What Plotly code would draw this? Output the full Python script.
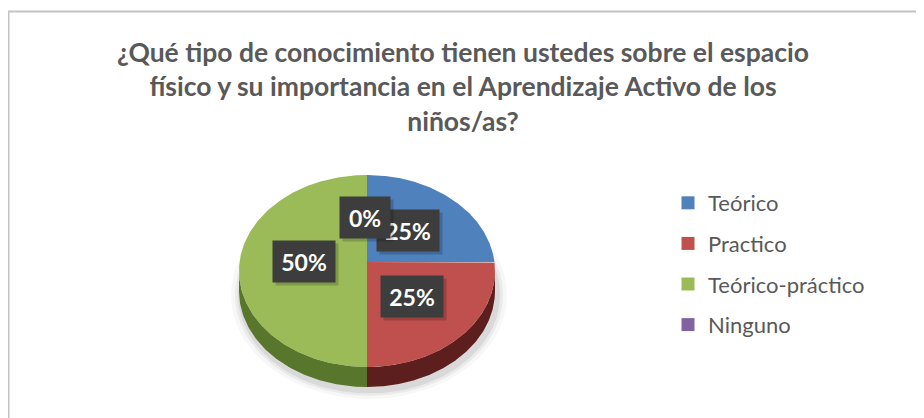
import numpy as np
import plotly.graph_objects as go

# ---- data ----
categories = ["Teórico", "Practico", "Teórico-práctico", "Ninguno"]
values = [25, 25, 50, 0]
labels_text = ["25%", "25%", "50%", "0%"]
title_text = ("¿Qué tipo de conocimiento tienen ustedes sobre el espacio<br>"
              "físico y su importancia en el Aprendizaje Activo de los<br>niños/as?")

# ---- style ----
top_colors = ["#4f81bd", "#c0504d", "#9bbb59", "#8064a2"]
side_colors = ["#2c4a6e", "#5c1f1d", "#58762c", "#4a3960"]
OFF = 8                     # page body margin
W, H = 924 - OFF, 418 - OFF
cx, cy, rx, ry = 367.0, 271.0, 128.0, 96.0   # top face ellipse (screen pixels)
ax_, ay_ = 367.0, 262.0                       # apex of wedges
depth = 20.0
label_pos = [(408, 230), (411.5, 296.5), (303.5, 261.5), (365, 217.5)]

fig = go.Figure()


def ray_point(phi):
    u = (ax_ - cx) / rx
    v = (ay_ - cy) / ry
    c, s_ = np.cos(phi), np.sin(phi)
    b = u * c - v * s_
    cc = u * u + v * v - 1
    s = -b + np.sqrt(b * b - cc)
    return ax_ + s * c * rx, ay_ - s * s_ * ry


# shadow
for grow, col in [(10, "rgba(0,0,0,0.03)"), (6, "rgba(0,0,0,0.05)"), (3, "rgba(0,0,0,0.07)")]:
    t = np.linspace(0, 2 * np.pi, 200)
    fig.add_trace(go.Scatter(x=cx + 2 + (rx + grow) * np.cos(t), y=cy + depth + 4 + (ry + grow * 0.8) * np.sin(t),
                             fill="toself", fillcolor=col, mode="lines", line=dict(width=0),
                             hoverinfo="skip", showlegend=False))

total = sum(values)
start = np.pi / 2
bounds = []
for v in values:
    end = start - 2 * np.pi * v / total
    bounds.append((start, end))
    start = end

# sides (visible on the lower half)
for i, (a0, a1) in enumerate(bounds):
    if values[i] == 0:
        continue
    phis = np.linspace(a0, a1, 200)
    pts = [ray_point(p) for p in phis]
    sel = [(x, y) for x, y in pts if y >= cy - 0.5]
    if len(sel) < 2:
        continue
    xs = [p[0] for p in sel]
    ys = [p[1] for p in sel]
    px = xs + xs[::-1]
    py = ys + [y + depth for y in ys[::-1]]
    fig.add_trace(go.Scatter(x=px, y=py, fill="toself", fillcolor=side_colors[i], mode="lines",
                             line=dict(width=0), hoverinfo="skip", showlegend=False))

# top faces
for i, (a0, a1) in enumerate(bounds):
    if values[i] == 0:
        continue
    phis = np.linspace(a0, a1, 200)
    pts = [ray_point(p) for p in phis]
    xs = [ax_] + [p[0] for p in pts] + [ax_]
    ys = [ay_] + [p[1] for p in pts] + [ay_]
    fig.add_trace(go.Scatter(x=xs, y=ys, fill="toself", fillcolor=top_colors[i], mode="lines",
                             line=dict(width=0), hoverinfo="skip", showlegend=False))

# legend entries
for i, c in enumerate(categories):
    fig.add_trace(go.Scatter(x=[None], y=[None], mode="markers", name=c, legendgroup=c,
                             marker=dict(symbol="square", size=13, color=top_colors[i])))

order = [2, 0, 1, 3]
for i in order:
    x, y = label_pos[i]
    bw = 50 if len(labels_text[i]) == 2 else 62
    fig.add_annotation(x=x, y=y, text=" ", showarrow=False, xshift=3, yshift=-3,
                       bgcolor="rgba(0,0,0,0.18)", width=bw, height=41, borderpad=0)
    fig.add_annotation(x=x, y=y, text="<b>%s</b>" % labels_text[i], showarrow=False,
                       font=dict(family="Lato", size=23, color="white"),
                       bgcolor="#3d3d3d", width=bw, height=41, borderpad=0)

fig.add_shape(type="rect", x0=8.5, y0=11.5, x1=1400, y1=700,
              line=dict(color="#c4c4c4", width=2), layer="below")

fig.update_layout(
    width=W, height=H, margin=dict(l=0, r=0, t=0, b=0),
    paper_bgcolor="white", plot_bgcolor="white",
    title=dict(text="<b>%s</b>" % title_text, x=(463 - OFF) / W, xanchor="center",
               y=1 - (62 - OFF) / H, yanchor="middle",
               font=dict(family="Lato", size=26.5, color="#595959")),
    xaxis=dict(range=[OFF, OFF + W], visible=False, domain=[0, 1], fixedrange=True),
    yaxis=dict(range=[OFF + H, OFF], visible=False, domain=[0, 1], fixedrange=True),
    legend=dict(x=(668 - OFF) / W, y=1 - (182 - OFF) / H, xanchor="left", yanchor="top", tracegroupgap=9,
                font=dict(family="Lato", size=22, color="#595959"), bgcolor="rgba(0,0,0,0)"),
    showlegend=True,
)
fig.write_html("out.html")
